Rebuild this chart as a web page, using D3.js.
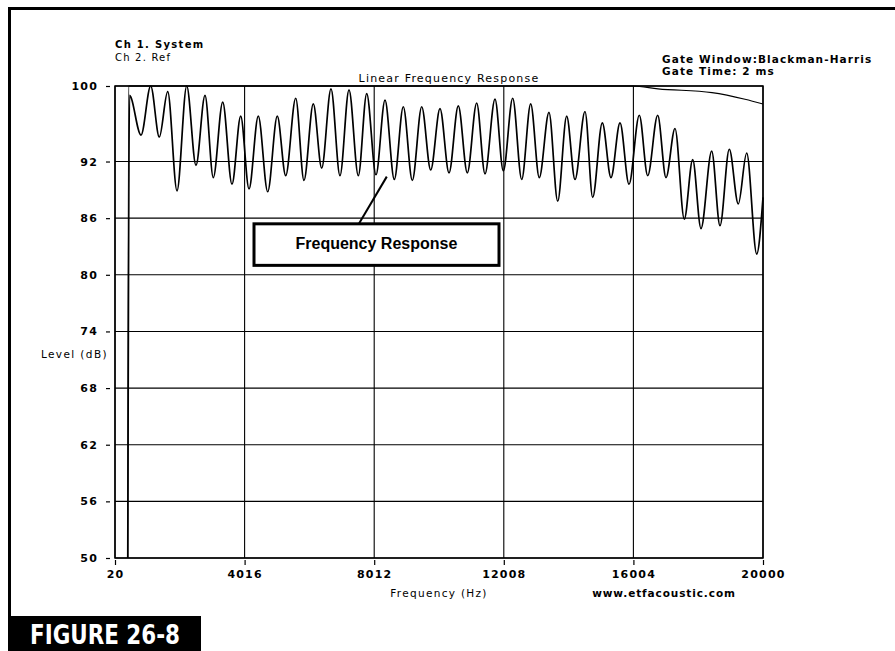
<!DOCTYPE html>
<html>
<head>
<meta charset="utf-8">
<script src="https://cdn.jsdelivr.net/npm/d3@7"></script>
<style>
    body { margin: 0; background: #fff; }
    #chart svg { display: block; }
</style>
</head>
<body>
<div id="chart"></div>
<script>

// axis ticks
const freqTicks = [20, 4016, 8012, 12008, 16004, 20000];
const levelTicks = [50, 56, 62, 68, 74, 80, 86, 92, 100];

// Ch 1 System - peaks and dips (Hz, dB)
const sysFreq = [414, 467, 822, 1121, 1386, 1645, 1932, 2231, 2517, 2795, 3051, 3341, 3627, 3896,
    4152, 4438, 4728, 5024, 5283, 5592, 5847, 6134, 6393, 6680, 6957, 7235, 7522, 7781, 8067,
    8345, 8632, 8909, 9187, 9477, 9754, 10041, 10319, 10605, 10883, 11172, 11428, 11737, 11993,
    12282, 12560, 12837, 13102, 13401, 13670, 13947, 14203, 14512, 14749, 15045, 15313, 15591,
    15868, 16186, 16445, 16753, 17009, 17287, 17573, 17832, 18088, 18418, 18674, 18961, 19238,
    19497, 19806, 20000];
const sysLevel = [50, 99.0, 94.8, 100, 94.6, 99.4, 88.9, 100, 91.6, 99.0, 90.3, 98.3, 89.6, 96.8,
    89.1, 96.8, 88.8, 96.8, 90.5, 98.7, 90.0, 98.1, 91.3, 99.7, 90.5, 99.6, 90.5, 99.2, 90.6,
    98.5, 90.1, 97.8, 90.0, 97.8, 91.1, 97.6, 90.8, 97.9, 90.8, 98.2, 90.7, 98.6, 91.0,
    98.7, 90.1, 98.1, 90.3, 97.2, 87.8, 96.8, 90.1, 97.3, 88.2, 96.1, 90.3, 96.1,
    89.6, 96.9, 90.5, 96.9, 90.3, 95.5, 85.9, 92.2, 84.9, 93.1, 85.2, 93.3, 87.5,
    92.9, 82.2, 88.2];

// Ch 2 Ref
const refFreq = [414, 440, 15991, 16762, 18427, 19445, 20000];
const refLevel = [50, 100, 100, 99.7, 99.3, 98.6, 98.1];

class ResponseVis {

    constructor(_parentElement) {
        this.parentElement = _parentElement;
        this.initVis();
    }

    initVis() {
        let vis = this;

        vis.margin = { top: 86, right: 132, bottom: 93, left: 115 };
        vis.width = 895 - vis.margin.left - vis.margin.right;
        vis.height = 651 - vis.margin.top - vis.margin.bottom;

        vis.root = d3.select("#" + vis.parentElement).append("svg")
            .attr("width", 895)
            .attr("height", 651);

        vis.svg = vis.root.append("g")
            .attr("transform", "translate(" + vis.margin.left + "," + vis.margin.top + ")");

        vis.x = d3.scaleLinear().domain([20, 20000]).range([0, vis.width]);
        vis.y = d3.scaleLinear().domain([50, 100]).range([vis.height, 0]);

        vis.wrangleData();
    }

    wrangleData() {
        let vis = this;
        vis.sys = sysFreq.map((f, i) => ({ f: f, db: sysLevel[i] }));
        vis.ref = refFreq.map((f, i) => ({ f: f, db: refLevel[i] }));
        vis.updateVis();
    }

    updateVis() {
        let vis = this;
        let font = "'DejaVu Sans', sans-serif";

        // page border (top + left) and figure tag
        vis.root.append("line").attr("x1", 8).attr("x2", 895).attr("y1", 8.5).attr("y2", 8.5)
            .attr("stroke", "#000").attr("stroke-width", 3);
        vis.root.append("line").attr("x1", 9.5).attr("x2", 9.5).attr("y1", 7).attr("y2", 620)
            .attr("stroke", "#000").attr("stroke-width", 3);
        vis.root.append("rect").attr("x", 8).attr("y", 616).attr("width", 193).attr("height", 35)
            .attr("fill", "#000");
        vis.root.append("text").attr("x", 30).attr("y", 644)
            .attr("textLength", 150).attr("lengthAdjust", "spacingAndGlyphs")
            .style("font-family", font).style("font-weight", "bold").style("font-size", "27px")
            .attr("fill", "#fff").text("FIGURE 26-8");

        // grid
        vis.svg.selectAll(".hgrid").data(levelTicks).enter().append("line")
            .attr("class", "hgrid")
            .attr("x1", 0).attr("x2", vis.width)
            .attr("y1", d => vis.y(d)).attr("y2", d => vis.y(d))
            .attr("stroke", "#000").attr("stroke-width", 1.1);
        vis.svg.selectAll(".vgrid").data(freqTicks).enter().append("line")
            .attr("class", "vgrid")
            .attr("x1", d => vis.x(d)).attr("x2", d => vis.x(d))
            .attr("y1", 0).attr("y2", vis.height)
            .attr("stroke", "#000").attr("stroke-width", 1.1);

        vis.svg.append("rect").attr("width", vis.width).attr("height", vis.height)
            .attr("fill", "none").attr("stroke", "#000").attr("stroke-width", 1.5);

        // axes
        let yAxis = d3.axisLeft(vis.y).tickValues(levelTicks).tickSize(4).tickPadding(8);
        let xAxis = d3.axisBottom(vis.x).tickValues(freqTicks).tickSize(5).tickPadding(5)
            .tickFormat(d3.format("d"));

        let yg = vis.svg.append("g").attr("transform", "translate(-5,0)").call(yAxis);
        let xg = vis.svg.append("g").attr("transform", "translate(0," + (vis.height + 2) + ")").call(xAxis);
        [yg, xg].forEach(g => {
            g.select(".domain").remove();
            g.selectAll(".tick line").attr("stroke", "#000").attr("stroke-width", 1.2);
            g.selectAll("text").attr("fill", "#000")
                .style("font-family", font).style("font-weight", "bold")
                .style("font-size", "11px").style("letter-spacing", "1.2px");
        });

        // curves
        let line = d3.line()
            .x(d => vis.x(d.f))
            .y(d => vis.y(d.db));

        vis.svg.append("path").datum(vis.ref)
            .attr("d", line.curve(d3.curveMonotoneX))
            .attr("fill", "none").attr("stroke", "#000").attr("stroke-width", 1.1);

        vis.svg.append("path").datum(vis.sys)
            .attr("d", line.curve(d3.curveMonotoneX))
            .attr("fill", "none").attr("stroke", "#000").attr("stroke-width", 1.7)
            .attr("stroke-linejoin", "round");

        // callout
        vis.svg.append("line")
            .attr("x1", vis.x(7540)).attr("y1", vis.y(85.4))
            .attr("x2", vis.x(8400)).attr("y2", vis.y(90.4))
            .attr("stroke", "#000").attr("stroke-width", 2);
        vis.svg.append("rect")
            .attr("x", vis.x(4306)).attr("y", vis.y(85.4))
            .attr("width", vis.x(11860) - vis.x(4306)).attr("height", vis.y(81.0) - vis.y(85.4))
            .attr("fill", "#fff").attr("stroke", "#000").attr("stroke-width", 3);
        vis.svg.append("text")
            .attr("x", vis.x(8080)).attr("y", vis.y(82.7))
            .attr("text-anchor", "middle")
            .style("font-family", "'Liberation Sans', Arial, sans-serif")
            .style("font-weight", "bold").style("font-size", "16px")
            .text("Frequency Response");

        // labels
        let label = (x, y, txt, size, weight, spacing, anchor) => {
            vis.root.append("text").attr("x", x).attr("y", y)
                .attr("text-anchor", anchor || "start")
                .style("font-family", font).style("font-size", size + "px")
                .style("font-weight", weight).style("letter-spacing", spacing + "px")
                .text(txt);
        };
        label(115, 48, "Ch 1. System", 10, "bold", 1.3);
        label(115, 61, "Ch 2. Ref", 10, "normal", 1.2);
        label(449, 82, "Linear Frequency Response", 11, "normal", 1.2, "middle");
        label(662, 63, "Gate Window:Blackman-Harris", 10.5, "bold", 1.1);
        label(662, 75, "Gate Time: 2 ms", 10.5, "bold", 1.1);
        label(108, 358, "Level (dB)", 10.5, "normal", 1.4, "end");
        label(439, 597, "Frequency (Hz)", 10.5, "normal", 1.3, "middle");
        label(664, 597, "www.etfacoustic.com", 10.5, "bold", 0.9, "middle");
    }
}

new ResponseVis("chart");
</script>
</body>
</html>
